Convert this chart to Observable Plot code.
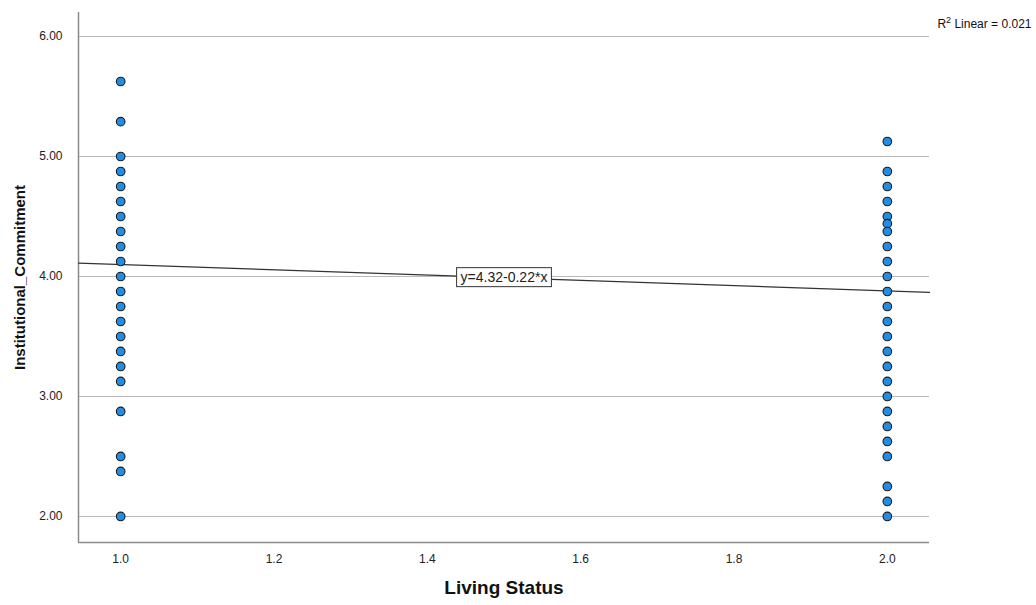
<!DOCTYPE html>
<html>
<head>
<meta charset="utf-8">
<script src="https://cdn.jsdelivr.net/npm/d3@7"></script>
<script src="https://cdn.jsdelivr.net/npm/@observablehq/plot@0.6"></script>
<style>
  html, body { margin: 0; padding: 0; background: #fff; }
  svg { display: block; }
</style>
</head>
<body>
<div id="chart"></div>
<script>
// Living Status groups
const livingStatus = [1, 2];
// Institutional_Commitment values observed at Living Status = 1.0
const commitmentAt1 = [5.625, 5.29, 5.0, 4.875, 4.75, 4.625, 4.5, 4.375, 4.25, 4.125, 4.0, 3.875, 3.75, 3.625, 3.5, 3.375, 3.25, 3.125, 2.875, 2.5, 2.375, 2.0];
// Institutional_Commitment values observed at Living Status = 2.0
const commitmentAt2 = [5.125, 4.875, 4.75, 4.625, 4.5, 4.44, 4.375, 4.25, 4.125, 4.0, 3.875, 3.75, 3.625, 3.5, 3.375, 3.25, 3.125, 3.0, 2.875, 2.75, 2.625, 2.5, 2.25, 2.125, 2.0];
// Fit line y = intercept + slope * x
const fitIntercept = 4.32;
const fitSlope = -0.22;
const rSquared = 0.021;
// Axis ticks
const xTicks = [1.0, 1.2, 1.4, 1.6, 1.8, 2.0];
const yTicks = [2, 3, 4, 5, 6];
const xDomain = [0.945, 2.055];
const yDomain = [1.783, 6.2];

const points = [
  ...commitmentAt1.map(v => ({x: livingStatus[0], y: v})),
  ...commitmentAt2.map(v => ({x: livingStatus[1], y: v}))
];
const fitLine = xDomain.map(x => ({x, y: fitIntercept + fitSlope * x}));
const eqText = `y=${fitIntercept.toFixed(2)}-${Math.abs(fitSlope).toFixed(2)}*x`;
const eqX = 1.5;
const eqPoint = [{x: eqX, y: fitIntercept + fitSlope * eqX, label: eqText}];
const r2Text = `R2 Linear = ${rSquared.toFixed(3)}`;

const font = "'Liberation Sans', Arial, sans-serif";

const chart = Plot.plot({
  width: 1036,
  height: 605,
  marginLeft: 78,
  marginRight: 107,
  marginTop: 12,
  marginBottom: 63,
  style: {fontFamily: font, fontSize: "12px", color: "#222", background: "#fff", overflow: "visible"},
  x: {domain: xDomain, axis: null},
  y: {domain: yDomain, axis: null},
  marks: [
    Plot.gridY(yTicks, {stroke: "#b8b8b8", strokeOpacity: 1, strokeWidth: 1}),
    Plot.axisY(yTicks, {tickSize: 0, tickPadding: 16, tickFormat: d3.format(".2f"), label: null, fontSize: 12, fill: "#222"}),
    Plot.axisX(xTicks, {tickSize: 0, tickPadding: 12, tickFormat: d3.format(".1f"), label: null, fontSize: 12, fill: "#222"}),
    Plot.ruleX([xDomain[0]], {stroke: "#8a8a8a", strokeWidth: 1.5}),
    Plot.ruleY([yDomain[0]], {stroke: "#8a8a8a", strokeWidth: 1.5}),
    Plot.line(fitLine, {x: "x", y: "y", stroke: "#333", strokeWidth: 1.2}),
    Plot.dot(points, {x: "x", y: "y", r: 4.3, fill: "#1f8ee6", stroke: "#1a1a1a", strokeWidth: 1.1}),
    Plot.text(eqPoint, {x: "x", y: "y", text: "label", fontSize: 14, fill: "#222", textAnchor: "middle"}),
    Plot.text([r2Text], {frameAnchor: "top-right", dx: 102, dy: 7, textAnchor: "end", fontSize: 12, fill: "#111"}),
    Plot.text(["Living Status"], {frameAnchor: "bottom", dy: 51, fontSize: 19, fontWeight: "bold", fill: "#111"}),
    Plot.text(["Institutional_Commitment"], {frameAnchor: "left", dx: -58, rotate: -90, textAnchor: "middle", fontSize: 15, fontWeight: "bold", fill: "#111"})
  ]
});

document.getElementById("chart").appendChild(chart);

const NS = "http://www.w3.org/2000/svg";
for (const t of chart.querySelectorAll("text")) {
  // White box framing the equation label
  if (t.textContent === eqText) {
    const b = t.getBBox();
    const rect = document.createElementNS(NS, "rect");
    rect.setAttribute("x", b.x - 4);
    rect.setAttribute("y", b.y - 1.5);
    rect.setAttribute("width", b.width + 8);
    rect.setAttribute("height", b.height + 3);
    rect.setAttribute("fill", "#fff");
    rect.setAttribute("stroke", "#333");
    rect.setAttribute("stroke-width", 1);
    const tr = t.getAttribute("transform");
    if (tr) rect.setAttribute("transform", tr);
    t.parentNode.insertBefore(rect, t);
  }
  // Superscript "2" in the R-squared note
  if (t.textContent === r2Text) {
    const target = t.querySelector("tspan") || t;
    target.textContent = "R";
    const sup = document.createElementNS(NS, "tspan");
    sup.setAttribute("baseline-shift", "super");
    sup.setAttribute("font-size", "9");
    sup.textContent = "2";
    target.appendChild(sup);
    const rest = document.createElementNS(NS, "tspan");
    rest.textContent = ` Linear = ${rSquared.toFixed(3)}`;
    target.appendChild(rest);
  }
}
</script>
</body>
</html>
